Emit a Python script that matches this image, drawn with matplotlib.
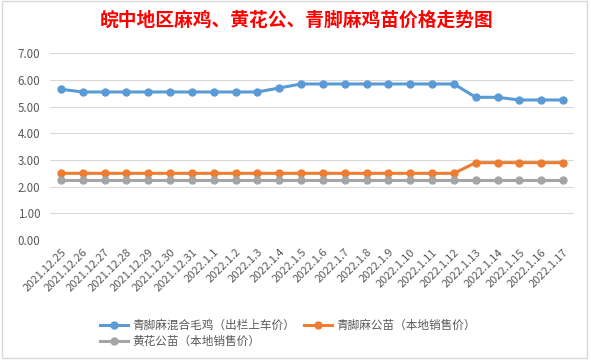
import matplotlib
matplotlib.use("Agg")
import matplotlib.pyplot as plt
from matplotlib.patches import Rectangle

plt.rcParams['font.family'] = ['Noto Sans CJK SC', 'DejaVu Sans']

dates = ["2021.12.25", "2021.12.26", "2021.12.27", "2021.12.28", "2021.12.29", "2021.12.30",
         "2021.12.31", "2022.1.1", "2022.1.2", "2022.1.3", "2022.1.4", "2022.1.5", "2022.1.6",
         "2022.1.7", "2022.1.8", "2022.1.9", "2022.1.10", "2022.1.11", "2022.1.12", "2022.1.13",
         "2022.1.14", "2022.1.15", "2022.1.16", "2022.1.17"]
mixed = [5.65, 5.55, 5.55, 5.55, 5.55, 5.55, 5.55, 5.55, 5.55, 5.55, 5.70, 5.85, 5.85,
         5.85, 5.85, 5.85, 5.85, 5.85, 5.85, 5.35, 5.35, 5.25, 5.25, 5.25]
qjm_cock = [2.5] * 19 + [2.9] * 5
hh_cock = [2.25] * 24
names = ["青脚麻混合毛鸡（出栏上车价）", "青脚麻公苗（本地销售价）", "黄花公苗（本地销售价）"]
colors = ["#5B9BD5", "#ED7D31", "#A5A5A5"]
yticks = [0, 1, 2, 3, 4, 5, 6, 7]

fig = plt.figure(figsize=(5.91, 3.62), dpi=100)
fig.patch.set_facecolor("white")
fig.patches.append(Rectangle((0.003, 0.012), 0.99, 0.985, transform=fig.transFigure,
                             fill=False, edgecolor="#D9D9D9", linewidth=1))
ax = fig.add_axes([50/591, 1-240/362, 524/591, (240-53.3)/362])
x = list(range(len(dates)))
handles = []
for vals, c, n in zip([mixed, qjm_cock, hh_cock], colors, names):
    h, = ax.plot(x, vals, color=c, linewidth=2.2, marker="o", markersize=5, label=n, zorder=3)
    handles.append(h)

ax.set_xlim(-0.5, len(dates) - 0.5)
ax.set_ylim(0, 7)
ax.set_yticks(yticks)
ax.set_yticklabels([f"{v:.2f}" for v in yticks], fontsize=8.3, color="#595959")
ax.set_xticks(x)
ax.set_xticklabels(dates, rotation=45, ha="right", rotation_mode="anchor",
                   fontsize=8, color="#595959")
ax.tick_params(axis="y", length=0, pad=7)
ax.tick_params(axis="x", length=0, pad=5)
ax.grid(axis="y", color="#D9D9D9", linewidth=0.8)
ax.set_axisbelow(True)
for s in ax.spines.values():
    s.set_visible(False)

fig.text(0.502, 0.945, "皖中地区麻鸡、黄花公、青脚麻鸡苗价格走势图", ha="center", va="center",
         fontsize=13.5, color="#FF0000", fontweight="bold")

leg = fig.legend([handles[0], handles[2], handles[1]], [names[0], names[2], names[1]],
                 ncol=2, loc="upper left", bbox_to_anchor=(94/591, 1-313/362),
                 frameon=False, fontsize=8.4, handlelength=2.4, columnspacing=0.8,
                 handletextpad=0.35, labelspacing=0.3, borderpad=0)
for t in leg.get_texts():
    t.set_color("#595959")

fig.savefig("out.png", dpi=100, facecolor="white")
